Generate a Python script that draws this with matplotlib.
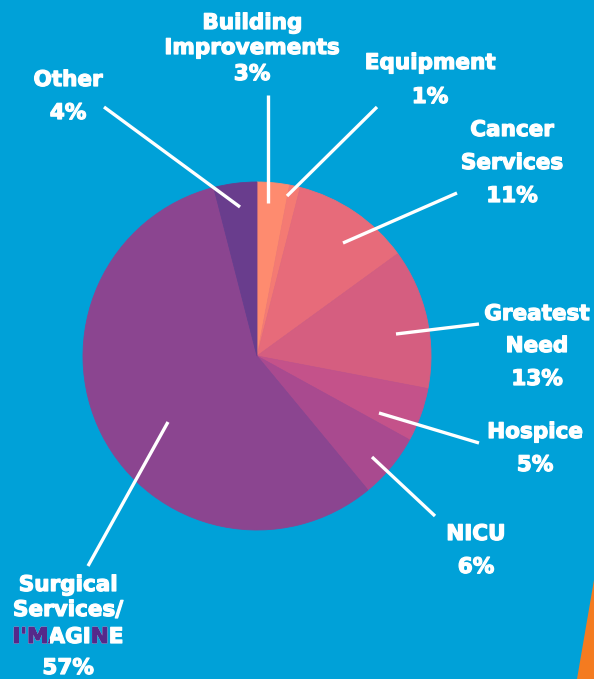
import matplotlib
matplotlib.use("Agg")
import matplotlib.pyplot as plt
import matplotlib.patheffects as pe
from matplotlib.patches import Polygon
from matplotlib.transforms import Bbox

# ---- data ----
categories = ["Building Improvements", "Equipment", "Cancer Services", "Greatest Need",
              "Hospice", "NICU", "Surgical Services/ I'MAGINE", "Other"]
shares = [3, 1, 11, 13, 5, 6, 57, 4]
slice_colors = ["#FE8B6F", "#F47A73", "#E76B7A", "#D55E80",
                "#C4528A", "#A94A8F", "#8B4590", "#693D8D"]

BG = "#00A1D8"
W, H = 594, 679
FONT = "DejaVu Sans"
FS = 15.5

fig = plt.figure(figsize=(W / 100, H / 100), dpi=100)
fig.patch.set_facecolor(BG)
ax = fig.add_axes([0, 0, 1, 1])
ax.set_facecolor(BG)


def Y(y):
    # pixel row (from top) -> data y
    return H - y


def fat(color):
    return [pe.withStroke(linewidth=0.9, foreground=color)]


wedges, _ = ax.pie(shares, colors=slice_colors, startangle=90, counterclock=False,
                   center=(257, Y(356)), radius=174, frame=True,
                   wedgeprops=dict(linewidth=0.6))
for w in wedges:
    w.set_edgecolor(w.get_facecolor())

ax.set_xlim(0, W)
ax.set_ylim(0, H)
ax.set_aspect("auto")
ax.axis("off")

# orange corner shape
ax.add_patch(Polygon([(594, Y(580)), (577, Y(679)), (594, Y(679))],
                     closed=True, facecolor="#F47B20", edgecolor="none"))

# leader lines (outer end, inner end) in pixels
leaders = [
    ((268, 95), (268, 203)),
    ((377, 107), (287, 196)),
    ((457, 193), (343, 243)),
    ((479, 324), (396, 334)),
    ((479, 443), (379, 413)),
    ((435, 516), (372, 457)),
    ((88, 566), (168, 422)),
    ((104, 107), (240, 207)),
]
for (x0, y0), (x1, y1) in leaders:
    ax.plot([x0, x1], [Y(y0), Y(y1)], color="white", lw=2.4, solid_capstyle="butt")

# labels: lines of text with centre x and row centres
labels = [
    (["Building", "Improvements", f"{shares[0]}%"], 252, [23, 48, 74]),
    (["Equipment", f"{shares[1]}%"], 430, [63, 97]),
    (["Cancer", "Services", f"{shares[2]}%"], 512, [130, 163, 196]),
    (["Greatest", "Need", f"{shares[3]}%"], 537, [314, 346, 379]),
    (["Hospice", f"{shares[4]}%"], 535, [432, 465]),
    (["NICU", f"{shares[5]}%"], 476, [534, 567]),
    (["Surgical", "Services/", None, f"{shares[6]}%"], 68, [585, 610, 637, 668]),
    (["Other", f"{shares[7]}%"], 68, [80, 113]),
]
for lines, cx, ys in labels:
    for txt, y in zip(lines, ys):
        if txt is None:
            continue
        ax.text(cx, Y(y), txt, ha="center", va="center", color="white",
                fontsize=FS, fontweight="bold", family=FONT, path_effects=fat("white"))

# two-tone I'MAGINE: white word, purple copy clipped to I'M and N
purple = "#55298A"
word = "I'MAGINE"
renderer = fig.canvas.get_renderer()
base = ax.text(68, Y(637), word, ha="center", va="center", color="white",
               fontsize=FS, fontweight="bold", family=FONT, path_effects=fat("white"))
bb = base.get_window_extent(renderer)


def ink(s):
    t = ax.text(0, 0, s, fontsize=FS, fontweight="bold", family=FONT)
    w = t.get_window_extent(renderer).width
    t.remove()
    return w


cut_m = bb.x0 + ink("I'M") + 1.5
cut_i = bb.x0 + ink("I'MAGI") + 1.5
cut_n = bb.x0 + ink("I'MAGIN") + 1.5
for xa, xb in [(bb.x0 - 5, cut_m), (cut_i, cut_n)]:
    t = ax.text(68, Y(637), word, ha="center", va="center", color=purple,
                fontsize=FS, fontweight="bold", family=FONT, path_effects=fat(purple))
    t.set_clip_box(Bbox([[xa, bb.y0 - 5], [xb, bb.y1 + 5]]))
    t.set_clip_on(True)

fig.savefig("out.png", dpi=100, facecolor=BG)
